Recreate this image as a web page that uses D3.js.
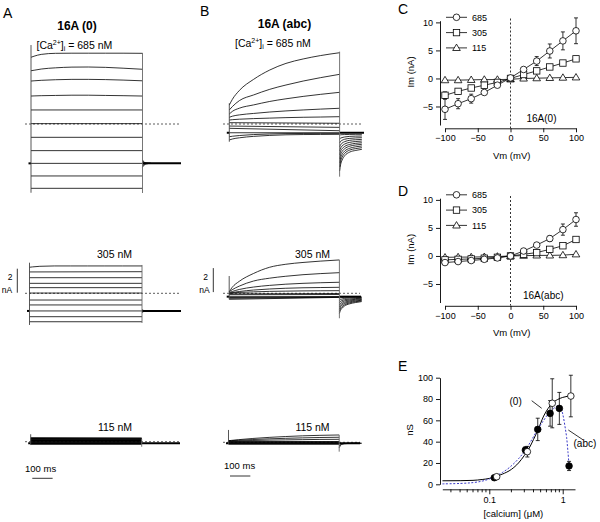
<!DOCTYPE html>
<html><head><meta charset="utf-8">
<script src="https://cdn.jsdelivr.net/npm/d3@7"></script>
<style>
body{margin:0;background:#fff;}
svg{display:block;}
</style></head><body>
<svg id="fig" width="600" height="522"></svg>
<script>
// ================= DATA =================
// --- current traces (nA), sampled at pulseT (ms); 2-value traces = start/end ---
const pulseT = [0, 15, 50, 120, 200, 280, 365, 450, 545];
const pulseDur = 545;
const aTailT = [0, 8, 20, 40];
const bTailT = [0, 5, 12, 25, 50, 80, 110];

const a685 = [
  [5.56, 5.65, 5.8, 5.89, 5.9, 5.9, 5.9, 5.9, 5.89],
  [4.44, 4.48, 4.58, 4.68, 4.74, 4.75, 4.72, 4.65, 4.56],
  [3.58, 3.6, 3.64, 3.69, 3.72, 3.72, 3.7, 3.66, 3.6],
  [2.33, 2.34, 2.36, 2.38, 2.4, 2.4, 2.38, 2.36, 2.33],
  [1.17, 1.17], [0.03, 0.03], [-1.11, -1.11], [-2.22, -2.22],
  [-3.28, -3.28], [-4.33, -4.33], [-5.36, -5.36]
];
const a305 = [
  [2.17, 2.2, 2.25, 2.28, 2.28, 2.28, 2.28, 2.28, 2.28],
  [1.78, 1.8], [1.3, 1.3], [0.83, 0.83], [0.47, 0.47], [0.02, 0.02],
  [-0.56, -0.56], [-0.97, -0.97], [-1.47, -1.47], [-1.95, -1.95], [-2.37, -2.37]
];
const a115 = [
  [0.32, 0.3], [0.26, 0.25], [0.2, 0.2], [0.15, 0.15], [0.1, 0.1], [0.05, 0.05],
  [0, 0], [-0.05, -0.05], [-0.1, -0.1], [-0.15, -0.15], [-0.2, -0.2]
];
const b685 = [
  [1.58, 2.05, 2.8, 3.72, 4.5, 5.05, 5.42, 5.7, 5.94],
  [1.17, 1.45, 1.95, 2.42, 2.89, 3.25, 3.58, 3.86, 4.14],
  [0.83, 1.05, 1.32, 1.59, 1.88, 2.1, 2.3, 2.47, 2.64],
  [0.56, 0.65, 0.76, 0.88, 1.0, 1.09, 1.17, 1.24, 1.31],
  [0.33, 0.36, 0.4, 0.45, 0.49, 0.53, 0.56, 0.58, 0.61],
  [0.11, 0.06], [-0.17, -0.28], [-0.36, -0.56], [-0.73, -0.73],
  [-1.06, -1.02, -0.96, -0.88, -0.83, -0.8, -0.79, -0.78, -0.78],
  [-1.33, -1.25, -1.15, -1.03, -0.95, -0.9, -0.88, -0.87, -0.86]
];
const b305 = [
  [0.13, 0.5, 1.0, 1.65, 2.17, 2.42, 2.57, 2.68, 2.78],
  [0.13, 0.3, 0.6, 1.02, 1.26, 1.42, 1.55, 1.64, 1.72],
  [0.05, 0.15, 0.32, 0.52, 0.66, 0.76, 0.83, 0.88, 0.92],
  [0, 0.06, 0.15, 0.27, 0.36, 0.42, 0.46, 0.48, 0.5],
  [0, 0.03, 0.07, 0.12, 0.16, 0.18, 0.2, 0.21, 0.22],
  [-0.05, -0.02], [-0.12, -0.1], [-0.28, -0.28], [-0.35, -0.3], [-0.42, -0.32], [-0.5, -0.34]
];
const b115 = [
  [0.13, 0.16, 0.22, 0.32, 0.41, 0.48, 0.54, 0.58, 0.61],
  [0.13, 0.14, 0.17, 0.23, 0.29, 0.33, 0.37, 0.4, 0.42],
  [0.1, 0.1, 0.12, 0.15, 0.18, 0.2, 0.22, 0.24, 0.25],
  [0.06, 0.06], [0.03, 0.03], [0, 0], [-0.03, -0.03], [-0.08, -0.08], [-0.1, -0.1], [-0.13, -0.13], [-0.16, -0.16]
];
// tail currents after the pulse (nA) at aTailT / bTailT
const a685Tails = [[-3.0, -3.18, -3.25, -3.28], [-3.12, -3.22, -3.26, -3.28], [-3.45, -3.36, -3.3, -3.28], [-3.6, -3.42, -3.32, -3.28]];
const a305Tails = [[-1.35, -1.43, -1.46, -1.47], [-1.6, -1.52, -1.48, -1.47]];
const a115Tails = [];
const b685Tails = [
  [-0.92, -0.9, -0.89, -0.88, -0.87, -0.86, -0.86],
  [-1.25, -1.18, -1.13, -1.08, -1.03, -1.01, -1.0],
  [-1.58, -1.45, -1.36, -1.27, -1.2, -1.16, -1.14],
  [-1.92, -1.73, -1.6, -1.47, -1.36, -1.31, -1.28],
  [-2.25, -2.0, -1.84, -1.67, -1.53, -1.46, -1.42],
  [-2.58, -2.27, -2.07, -1.87, -1.7, -1.61, -1.56],
  [-2.92, -2.55, -2.3, -2.06, -1.85, -1.75, -1.69],
  [-3.25, -2.82, -2.54, -2.26, -2.02, -1.9, -1.83],
  [-3.58, -3.1, -2.77, -2.45, -2.17, -2.05, -1.97],
  [-3.92, -3.38, -3.02, -2.65, -2.34, -2.2, -2.11]
];
const b305Tails = [
  [-0.42, -0.38, -0.35, -0.33, -0.31, -0.3, -0.3],
  [-0.6, -0.53, -0.48, -0.43, -0.39, -0.37, -0.36],
  [-0.78, -0.68, -0.61, -0.54, -0.48, -0.44, -0.41],
  [-0.96, -0.83, -0.74, -0.64, -0.56, -0.5, -0.47],
  [-1.14, -0.98, -0.87, -0.75, -0.64, -0.57, -0.52],
  [-1.32, -1.13, -1.0, -0.85, -0.72, -0.64, -0.58],
  [-1.5, -1.28, -1.13, -0.96, -0.8, -0.7, -0.63],
  [-1.68, -1.43, -1.26, -1.06, -0.88, -0.77, -0.69]
];
const b115Tails = [[-0.3, -0.2, -0.13, -0.1, -0.09, -0.08, -0.08], [-0.45, -0.3, -0.18, -0.12, -0.09, -0.08, -0.08]];
// holding currents (nA): A685, A305, A115, B685, B305, B115
const holding = [-3.28, -1.47, -0.13, -0.73, -0.28, -0.08];
// capacitive transient extents (nA): [startTop, startBottom, endTop, endBottom]
const a685Trans = [6.58, -5.73, 5.92, -5.75];
const a305Trans = [2.55, -2.64, 2.36, -2.47];
const a115Trans = [0.62, -0.28, 0.23, -0.42];
const b685Trans = [1.73, -1.48, 6.03, -4.39];
const b305Trans = [1.44, -0.5, 2.78, -2.08];
const b115Trans = [1.03, -0.14, 0.61, -0.78];
const concLabels = ["685 nM", "305 nM", "115 nM"];

// --- I-V curves ---
const vm = [-100, -80, -60, -40, -20, 0, 20, 40, 60, 80, 100];
const seriesNames = ["685", "305", "115"];
const c685 = [-5.5, -4.5, -3.6, -2.5, -1.2, 0.1, 1.6, 3.1, 4.9, 6.7, 8.5];
const c685Err = [1.8, 0.9, 0.8, 0.3, 0.2, 0.1, 0.3, 0.8, 1.25, 1.6, 2.3];
const c305 = [-3.0, -2.3, -1.7, -1.2, -0.7, 0.0, 0.7, 1.35, 2.05, 2.75, 3.5];
const c305Err = [0.6, 0.4, 0.3, 0.2, 0.2, 0.1, 0.2, 0.2, 0.3, 0.3, 0.4];
const c115 = [-0.3, -0.3, -0.25, -0.2, -0.2, -0.15, 0.0, 0.05, 0.1, 0.15, 0.2];
const d685 = [-1.18, -1.0, -0.82, -0.6, -0.35, 0.0, 0.88, 1.94, 3.1, 4.7, 6.5];
const d685Err = [0.3, 0.3, 0.2, 0.2, 0.2, 0.1, 0.2, 0.3, 0.5, 1.0, 1.2];
const d305 = [-0.7, -0.6, -0.53, -0.4, -0.24, 0.0, 0.3, 0.6, 1.18, 1.82, 2.94];
const d305Err = [0.2, 0.2, 0.1, 0.1, 0.1, 0.1, 0.1, 0.1, 0.2, 0.2, 0.3];
const d115 = [-0.25, -0.2, -0.2, -0.15, -0.1, 0.0, 0.05, 0.1, 0.1, 0.15, 0.3];
const vmTicks = [-100, -50, 0, 50, 100];
const imTicks = [-5, 0, 5, 10];

// --- conductance vs calcium ---
const eOpenX = [0.126, 0.33, 0.72, 1.29];
const eOpenY = [7.1, 30.6, 76, 82.8];
const eOpenErr = [1.5, 5, 23, 19.5];
const eFillX = [0.117, 0.31, 0.457, 0.673, 0.90, 1.22];
const eFillY = [6.2, 32.1, 51.5, 66.5, 71.2, 17.2];
const eFillErr = [1.2, 3, 10.5, 12, 15, 4.3];
const fit0X = [0.023, 0.04, 0.06, 0.08, 0.1, 0.126, 0.15, 0.2, 0.25, 0.3, 0.35, 0.4, 0.46, 0.55, 0.63, 0.72, 0.85, 1.0, 1.15, 1.29];
const fit0Y = [3.3, 3.4, 3.7, 4.5, 5.5, 7.5, 9.5, 14, 20, 27, 34, 42, 51, 64, 71, 76, 79.5, 81.5, 82.5, 83];
const fitAbcX = [0.023, 0.04, 0.06, 0.08, 0.1, 0.12, 0.15, 0.19, 0.25, 0.31, 0.38, 0.46, 0.55, 0.65, 0.75, 0.85, 0.93, 1.0, 1.07, 1.13, 1.18, 1.22];
const fitAbcY = [0.4, 0.8, 1.6, 3, 5, 7.5, 11, 16, 24, 32, 42, 52, 60, 67, 71, 73.5, 73, 66, 55, 44, 30, 18];
const nsTicks = [0, 20, 40, 60, 80, 100];
const caMajor = [0.1, 1];
const caMinor = [0.03, 0.04, 0.05, 0.06, 0.07, 0.08, 0.09, 0.2, 0.3, 0.4, 0.5, 0.6, 0.7, 0.8, 0.9];

// ================= DRAWING =================
const FONT = '"Liberation Sans", Arial, Helvetica, sans-serif';
const svg = d3.select("#fig").attr("font-family", FONT);

function txt(x, y, s, size, opt = {}) {
  const t = svg.append("text").attr("x", x).attr("y", y).attr("font-size", size).text(s).attr("fill", "#000");
  if (opt.anchor) t.attr("text-anchor", opt.anchor);
  if (opt.weight) t.attr("font-weight", opt.weight);
  return t;
}

// ---- panel letters & titles ----
txt(3, 17.5, "A", 14);
txt(200, 15.5, "B", 14);
txt(398, 14, "C", 14);
txt(398, 196, "D", 14);
txt(398, 371, "E", 14);
txt(77, 29.5, "16A (0)", 12, { anchor: "middle", weight: "bold" });
txt(284.5, 28, "16A (abc)", 12, { anchor: "middle", weight: "bold" });

function caLabel(x, y) {
  const t = svg.append("text").attr("x", x).attr("y", y).attr("font-size", 10.5);
  t.append("tspan").text("[Ca");
  t.append("tspan").attr("font-size", 7).attr("dy", -4).text("2+");
  t.append("tspan").attr("dy", 4).text("]");
  t.append("tspan").attr("font-size", 7).attr("dy", 2.5).text("i");
  t.append("tspan").attr("dy", -2.5).text(" = 685 nM");
}
caLabel(36.5, 48.5);
caLabel(235, 46.5);
txt(114.5, 258, concLabels[1], 10.5, { anchor: "middle" });
txt(312.5, 258, concLabels[1], 10.5, { anchor: "middle" });
txt(115, 430.5, concLabels[2], 10.5, { anchor: "middle" });
txt(312.5, 430.5, concLabels[2], 10.5, { anchor: "middle" });

// ---- current traces ----
const PX_PER_NA = 12;
const tracePanels = [
  { traces: a685, tails: a685Tails, tailT: aTailT, hold: holding[0], trans: a685Trans, x0: 31, x1: 142.5, zeroY: 124, dash: [25, 181], holdEnd: 181, sw: 0.8 },
  { traces: a305, tails: a305Tails, tailT: aTailT, hold: holding[1], trans: a305Trans, x0: 29.5, x1: 142, zeroY: 293.3, dash: [25, 181], holdEnd: 181, sw: 0.8 },
  { traces: a115, tails: a115Tails, tailT: aTailT, hold: holding[2], trans: a115Trans, x0: 30.7, x1: 141.7, zeroY: 441.7, dash: [25, 180], holdEnd: 180, sw: 1.1 },
  { traces: b685, tails: b685Tails, tailT: bTailT, hold: holding[3], trans: b685Trans, x0: 229.3, x1: 339.6, zeroY: 124, dash: [223, 362], holdEnd: 364, sw: 0.8 },
  { traces: b305, tails: b305Tails, tailT: bTailT, hold: holding[4], trans: b305Trans, x0: 229.2, x1: 339.4, zeroY: 293.3, dash: [223, 360], holdEnd: 361, sw: 0.8 },
  { traces: b115, tails: b115Tails, tailT: bTailT, hold: holding[5], trans: b115Trans, x0: 228.5, x1: 339.2, zeroY: 442.3, dash: [223, 360], holdEnd: 360, sw: 0.8 }
];

tracePanels.forEach(p => {
  const ts = d3.scaleLinear().domain([0, pulseDur]).range([p.x0, p.x1]);
  const ys = d3.scaleLinear().domain([0, 1]).range([p.zeroY, p.zeroY - PX_PER_NA]);
  const g = svg.append("g");
  const line = d3.line().x(d => ts(d[0])).y(d => ys(d[1])).curve(d3.curveMonotoneX);
  g.append("line").attr("x1", p.dash[0]).attr("x2", p.dash[1])
    .attr("y1", ys(0)).attr("y2", ys(0))
    .attr("stroke", "#333").attr("stroke-width", 0.8).attr("stroke-dasharray", "2,2");
  p.traces.forEach(v => {
    const times = v.length === pulseT.length ? pulseT : v.map((_, i) => i * pulseDur / (v.length - 1));
    g.append("path").attr("d", line(times.map((t, i) => [t, v[i]])))
      .attr("fill", "none").attr("stroke", "#000").attr("stroke-width", p.sw);
  });
  p.tails.forEach(v => {
    g.append("path").attr("d", line(p.tailT.map((t, i) => [pulseDur + t, v[i]])))
      .attr("fill", "none").attr("stroke", "#000").attr("stroke-width", 0.8);
  });
  g.append("line").attr("x1", p.x0 - 2.5).attr("x2", p.x0).attr("y1", ys(p.hold)).attr("y2", ys(p.hold))
    .attr("stroke", "#000").attr("stroke-width", 2);
  g.append("line").attr("x1", p.x1).attr("x2", p.holdEnd).attr("y1", ys(p.hold)).attr("y2", ys(p.hold))
    .attr("stroke", "#000").attr("stroke-width", 2);
  g.append("line").attr("x1", p.x0).attr("x2", p.x0).attr("y1", ys(p.trans[0])).attr("y2", ys(p.trans[1]))
    .attr("stroke", "#444").attr("stroke-width", 0.9);
  g.append("line").attr("x1", p.x1).attr("x2", p.x1).attr("y1", ys(p.trans[2])).attr("y2", ys(p.trans[3]))
    .attr("stroke", "#666").attr("stroke-width", 0.9);
});

// ---- scale bars ----
function vBar(x, zeroY, label2x, labelNAx) {
  const ys = d3.scaleLinear().domain([0, 1]).range([zeroY, zeroY - PX_PER_NA]);
  svg.append("line").attr("x1", x).attr("x2", x).attr("y1", ys(0.05)).attr("y2", ys(2.05))
    .attr("stroke", "#000").attr("stroke-width", 0.8);
  txt(label2x, ys(1.1), "2", 8.5, { anchor: "middle" });
  txt(labelNAx, ys(0.0), "nA", 8.5, { anchor: "middle" });
}
vBar(17.3, 293.3, 10, 7);
vBar(213.3, 292.7, 205.5, 204.5);
function hBar(x, y, tx, ty) {
  const ts = d3.scaleLinear().domain([0, pulseDur]).range([0, 110.8]);
  svg.append("line").attr("x1", x).attr("x2", x + ts(100)).attr("y1", y).attr("y2", y)
    .attr("stroke", "#000").attr("stroke-width", 0.8);
  txt(tx, ty, "100 ms", 9.5);
}
hBar(32.3, 478.3, 25, 471.5);
hBar(230, 476, 224, 469);

// ---- I-V panels ----
function marker(g, type, x, y) {
  if (type === 0) g.append("circle").attr("cx", x).attr("cy", y).attr("r", 3.3);
  else if (type === 1) g.append("rect").attr("x", x - 3.2).attr("y", y - 3.2).attr("width", 6.4).attr("height", 6.4);
  else g.append("path").attr("d", `M${x},${y - 3.8}L${x + 3.8},${y + 2.6}L${x - 3.8},${y + 2.6}Z`);
}
function drawIV(dy, sets, tag, tagX) {
  const x = d3.scaleLinear().domain([-100, 100]).range([445, 576]);
  const y = d3.scaleLinear().domain([-8.3, 10.3]).range([125 + dy, 20.7 + dy]);
  const g = svg.append("g");
  g.append("line").attr("x1", x(0)).attr("x2", x(0)).attr("y1", 18.5 + dy).attr("y2", 128 + dy)
    .attr("stroke", "#000").attr("stroke-width", 0.8).attr("stroke-dasharray", "2,2");
  const ay = g.append("g").attr("transform", `translate(440,0)`)
    .call(d3.axisLeft(y).tickValues(imTicks).tickSize(4).tickSizeOuter(0).tickPadding(3));
  const ax = g.append("g").attr("transform", `translate(0,${128.3 + dy})`)
    .call(d3.axisBottom(x).tickValues(vmTicks).tickSize(4).tickSizeOuter(0).tickPadding(2.5));
  [ay, ax].forEach(a => {
    a.attr("font-family", FONT).attr("font-size", 9);
    a.selectAll("path,line").attr("stroke", "#000").attr("stroke-width", 0.9);
  });
  for (let s = sets.length - 1; s >= 0; s--) {
    const d = sets[s];
    const sg = g.append("g").attr("fill", "#fff").attr("stroke", "#000").attr("stroke-width", 0.8);
    sg.append("path").attr("d", d3.line().x((v, i) => x(vm[i])).y(v => y(v))(d.vals)).attr("fill", "none");
    if (d.err) d.vals.forEach((v, i) => {
      const e = d.err[i];
      if (e < 0.25) return;
      const xx = x(vm[i]);
      sg.append("line").attr("x1", xx).attr("x2", xx).attr("y1", y(v - e)).attr("y2", y(v + e));
      sg.append("line").attr("x1", xx - 2).attr("x2", xx + 2).attr("y1", y(v - e)).attr("y2", y(v - e));
      sg.append("line").attr("x1", xx - 2).attr("x2", xx + 2).attr("y1", y(v + e)).attr("y2", y(v + e));
    });
    d.vals.forEach((v, i) => marker(sg, s, x(vm[i]), y(v)));
  }
  seriesNames.forEach((n, i) => {
    const ly = 17.3 + dy + i * 15.3;
    const lg = g.append("g").attr("fill", "#fff").attr("stroke", "#000").attr("stroke-width", 0.8);
    lg.append("line").attr("x1", 446).attr("x2", 467).attr("y1", ly).attr("y2", ly);
    marker(lg, i, 456.5, ly);
    txt(472, ly + 3.3, n, 9);
  });
  txt(tagX, 121.5 + dy, tag, 10);
  txt(511.7, 158.5 + dy, "Vm (mV)", 9.5, { anchor: "middle" });
  svg.append("text").attr("transform", `translate(413.5,${72 + dy}) rotate(-90)`)
    .attr("text-anchor", "middle").attr("font-size", 9.5).text("Im (nA)");
}
drawIV(0, [{ vals: c685, err: c685Err }, { vals: c305, err: c305Err }, { vals: c115 }], "16A(0)", 526.5);
drawIV(177.5, [{ vals: d685, err: d685Err }, { vals: d305, err: d305Err }, { vals: d115 }], "16A(abc)", 523);

// ---- panel E ----
(function () {
  const x = d3.scaleLog().domain([0.0229, 1.47]).range([442.3, 575]);
  const y = d3.scaleLinear().domain([0, 100]).range([484.3, 377.7]);
  const g = svg.append("g");
  const ay = g.append("g").attr("transform", "translate(440,0)")
    .call(d3.axisLeft(y).tickValues(nsTicks).tickSize(4).tickSizeOuter(0).tickPadding(3));
  const ax = g.append("g").attr("transform", "translate(0,489.3)")
    .call(d3.axisBottom(x).tickValues(caMajor).tickFormat(d3.format("")).tickSize(5).tickSizeOuter(0).tickPadding(2.5));
  ax.selectAll(".minor").data(caMinor).enter().append("line").attr("class", "minor")
    .attr("x1", d => x(d)).attr("x2", d => x(d)).attr("y1", 0).attr("y2", 3);
  [ay, ax].forEach(a => {
    a.attr("font-family", FONT).attr("font-size", 9);
    a.selectAll("path,line").attr("stroke", "#000").attr("stroke-width", 0.9);
  });
  const ln = d3.line().x(d => x(d[0])).y(d => y(d[1])).curve(d3.curveMonotoneX);
  g.append("path").attr("d", ln(fit0X.map((v, i) => [v, fit0Y[i]])))
    .attr("fill", "none").attr("stroke", "#000").attr("stroke-width", 1);
  g.append("path").attr("d", d3.line().x(d => x(d[0])).y(d => y(d[1])).curve(d3.curveCatmullRom)(fitAbcX.map((v, i) => [v, fitAbcY[i]])))
    .attr("fill", "none").attr("stroke", "#3a3ac8").attr("stroke-width", 1).attr("stroke-dasharray", "2,1.6");
  function pts(xs, ys, es, fill) {
    const pg = g.append("g").attr("stroke", "#000").attr("stroke-width", 0.8);
    xs.forEach((xv, i) => {
      const xx = x(xv), e = es[i], v = ys[i];
      if (e > 2) {
        pg.append("line").attr("x1", xx).attr("x2", xx).attr("y1", y(v - e)).attr("y2", y(v + e));
        pg.append("line").attr("x1", xx - 2).attr("x2", xx + 2).attr("y1", y(v - e)).attr("y2", y(v - e));
        pg.append("line").attr("x1", xx - 2).attr("x2", xx + 2).attr("y1", y(v + e)).attr("y2", y(v + e));
      }
    });
    xs.forEach((xv, i) => pg.append("circle").attr("cx", x(xv)).attr("cy", y(ys[i])).attr("r", 3.3).attr("fill", fill));
  }
  pts(eFillX, eFillY, eFillErr, "#000");
  pts(eOpenX, eOpenY, eOpenErr, "#fff");
  txt(509.5, 404.5, "(0)", 10);
  g.append("line").attr("x1", 531.7).attr("y1", 400.7).attr("x2", 541.7).attr("y2", 408.3).attr("stroke", "#000").attr("stroke-width", 0.8);
  txt(573.5, 447, "(abc)", 10);
  g.append("line").attr("x1", 568.3).attr("y1", 430).attr("x2", 583.3).attr("y2", 440).attr("stroke", "#000").attr("stroke-width", 0.8);
  txt(513.3, 516.5, "[calcium] (\u03BCM)", 9.5, { anchor: "middle" });
  svg.append("text").attr("transform", "translate(413.3,430) rotate(-90)")
    .attr("text-anchor", "middle").attr("font-size", 9.5).text("nS");
})();
</script>
</body></html>
